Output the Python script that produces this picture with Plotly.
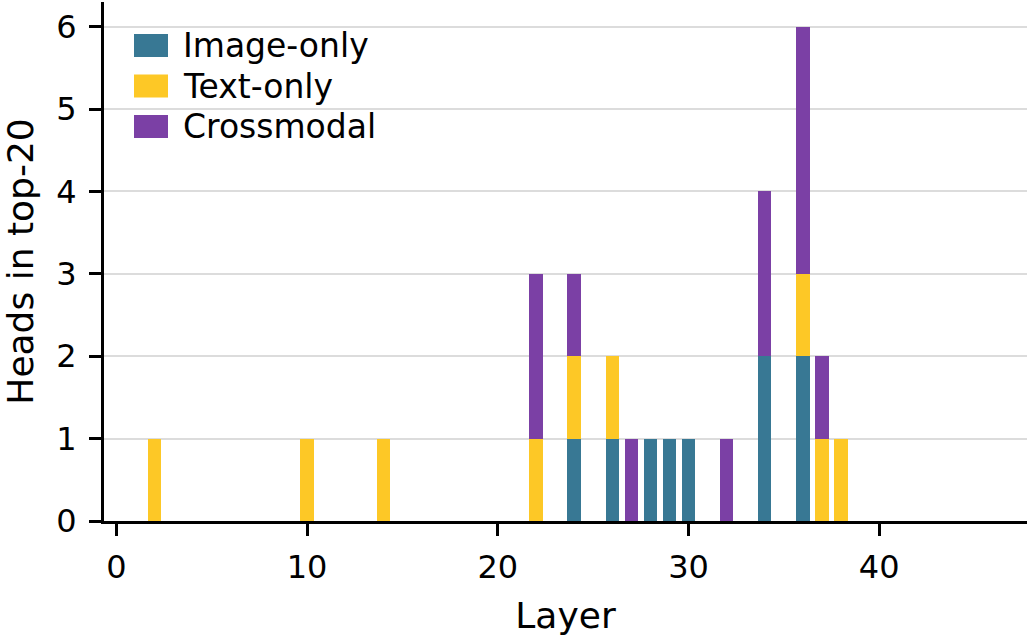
import plotly.graph_objects as go

layers = [2, 10, 14, 22, 24, 26, 27, 28, 29, 30, 32, 34, 36, 37, 38]
image_only = [0, 0, 0, 0, 1, 1, 0, 1, 1, 1, 0, 2, 2, 0, 0]
text_only = [1, 1, 1, 1, 1, 1, 0, 0, 0, 0, 0, 0, 1, 1, 1]
crossmodal = [0, 0, 0, 2, 1, 0, 1, 0, 0, 0, 1, 2, 3, 1, 0]

series = [
    ("Image-only", image_only, "#387894"),
    ("Text-only", text_only, "#fdc826"),
    ("Crossmodal", crossmodal, "#7b40a5"),
]

FONT = "DejaVu Sans"
W, H = 1028, 637
L, R, T, B = 104, 1, 2, 116
PW, PH = W - L - R, H - T - B

fig = go.Figure()
for name, vals, color in series:
    fig.add_trace(go.Bar(
        x=layers, y=vals, name=name, width=0.7, showlegend=False,
        marker=dict(color=color, line=dict(width=0)),
    ))

# custom legend (large patches like the reference)
def px_x(p):
    return (p - L) / PW

def px_y(p):
    return (H - B - p) / PH

for i, (name, vals, color) in enumerate(series):
    top = 34 + i * 40.5
    fig.add_shape(type="rect", xref="paper", yref="paper",
                  x0=px_x(134), x1=px_x(168), y0=px_y(top + 23), y1=px_y(top),
                  fillcolor=color, line=dict(width=0))
    fig.add_annotation(xref="paper", yref="paper", x=px_x(181), y=px_y(top + 11.5),
                       text=name, showarrow=False, xanchor="left", yanchor="middle",
                       font=dict(size=33, family=FONT, color="black"))

fig.update_layout(
    width=W, height=H,
    barmode="stack",
    plot_bgcolor="white", paper_bgcolor="white",
    margin=dict(l=L, r=R, t=T, b=B),
    font=dict(family=FONT, size=32, color="black"),
    showlegend=False,
    bargap=0,
)
fig.update_xaxes(
    range=[-0.65, 47.75], tickvals=[0, 10, 20, 30, 40],
    showline=True, linecolor="black", linewidth=3,
    ticks="outside", ticklen=12, tickwidth=3, tickcolor="black",
    ticklabelstandoff=4,
    showgrid=False, zeroline=False,
    title=dict(text="Layer", font=dict(size=36), standoff=18),
)
fig.update_yaxes(
    range=[0, 6.3], tickvals=[0, 1, 2, 3, 4, 5, 6],
    showline=True, linecolor="black", linewidth=3,
    ticks="outside", ticklen=12, tickwidth=3, tickcolor="black",
    ticklabelstandoff=6,
    showgrid=True, gridcolor="#dcdcdc", gridwidth=1.5, zeroline=False,
    title=dict(text="Heads in top-20", font=dict(size=36), standoff=18),
)

fig.write_html("out.html")
